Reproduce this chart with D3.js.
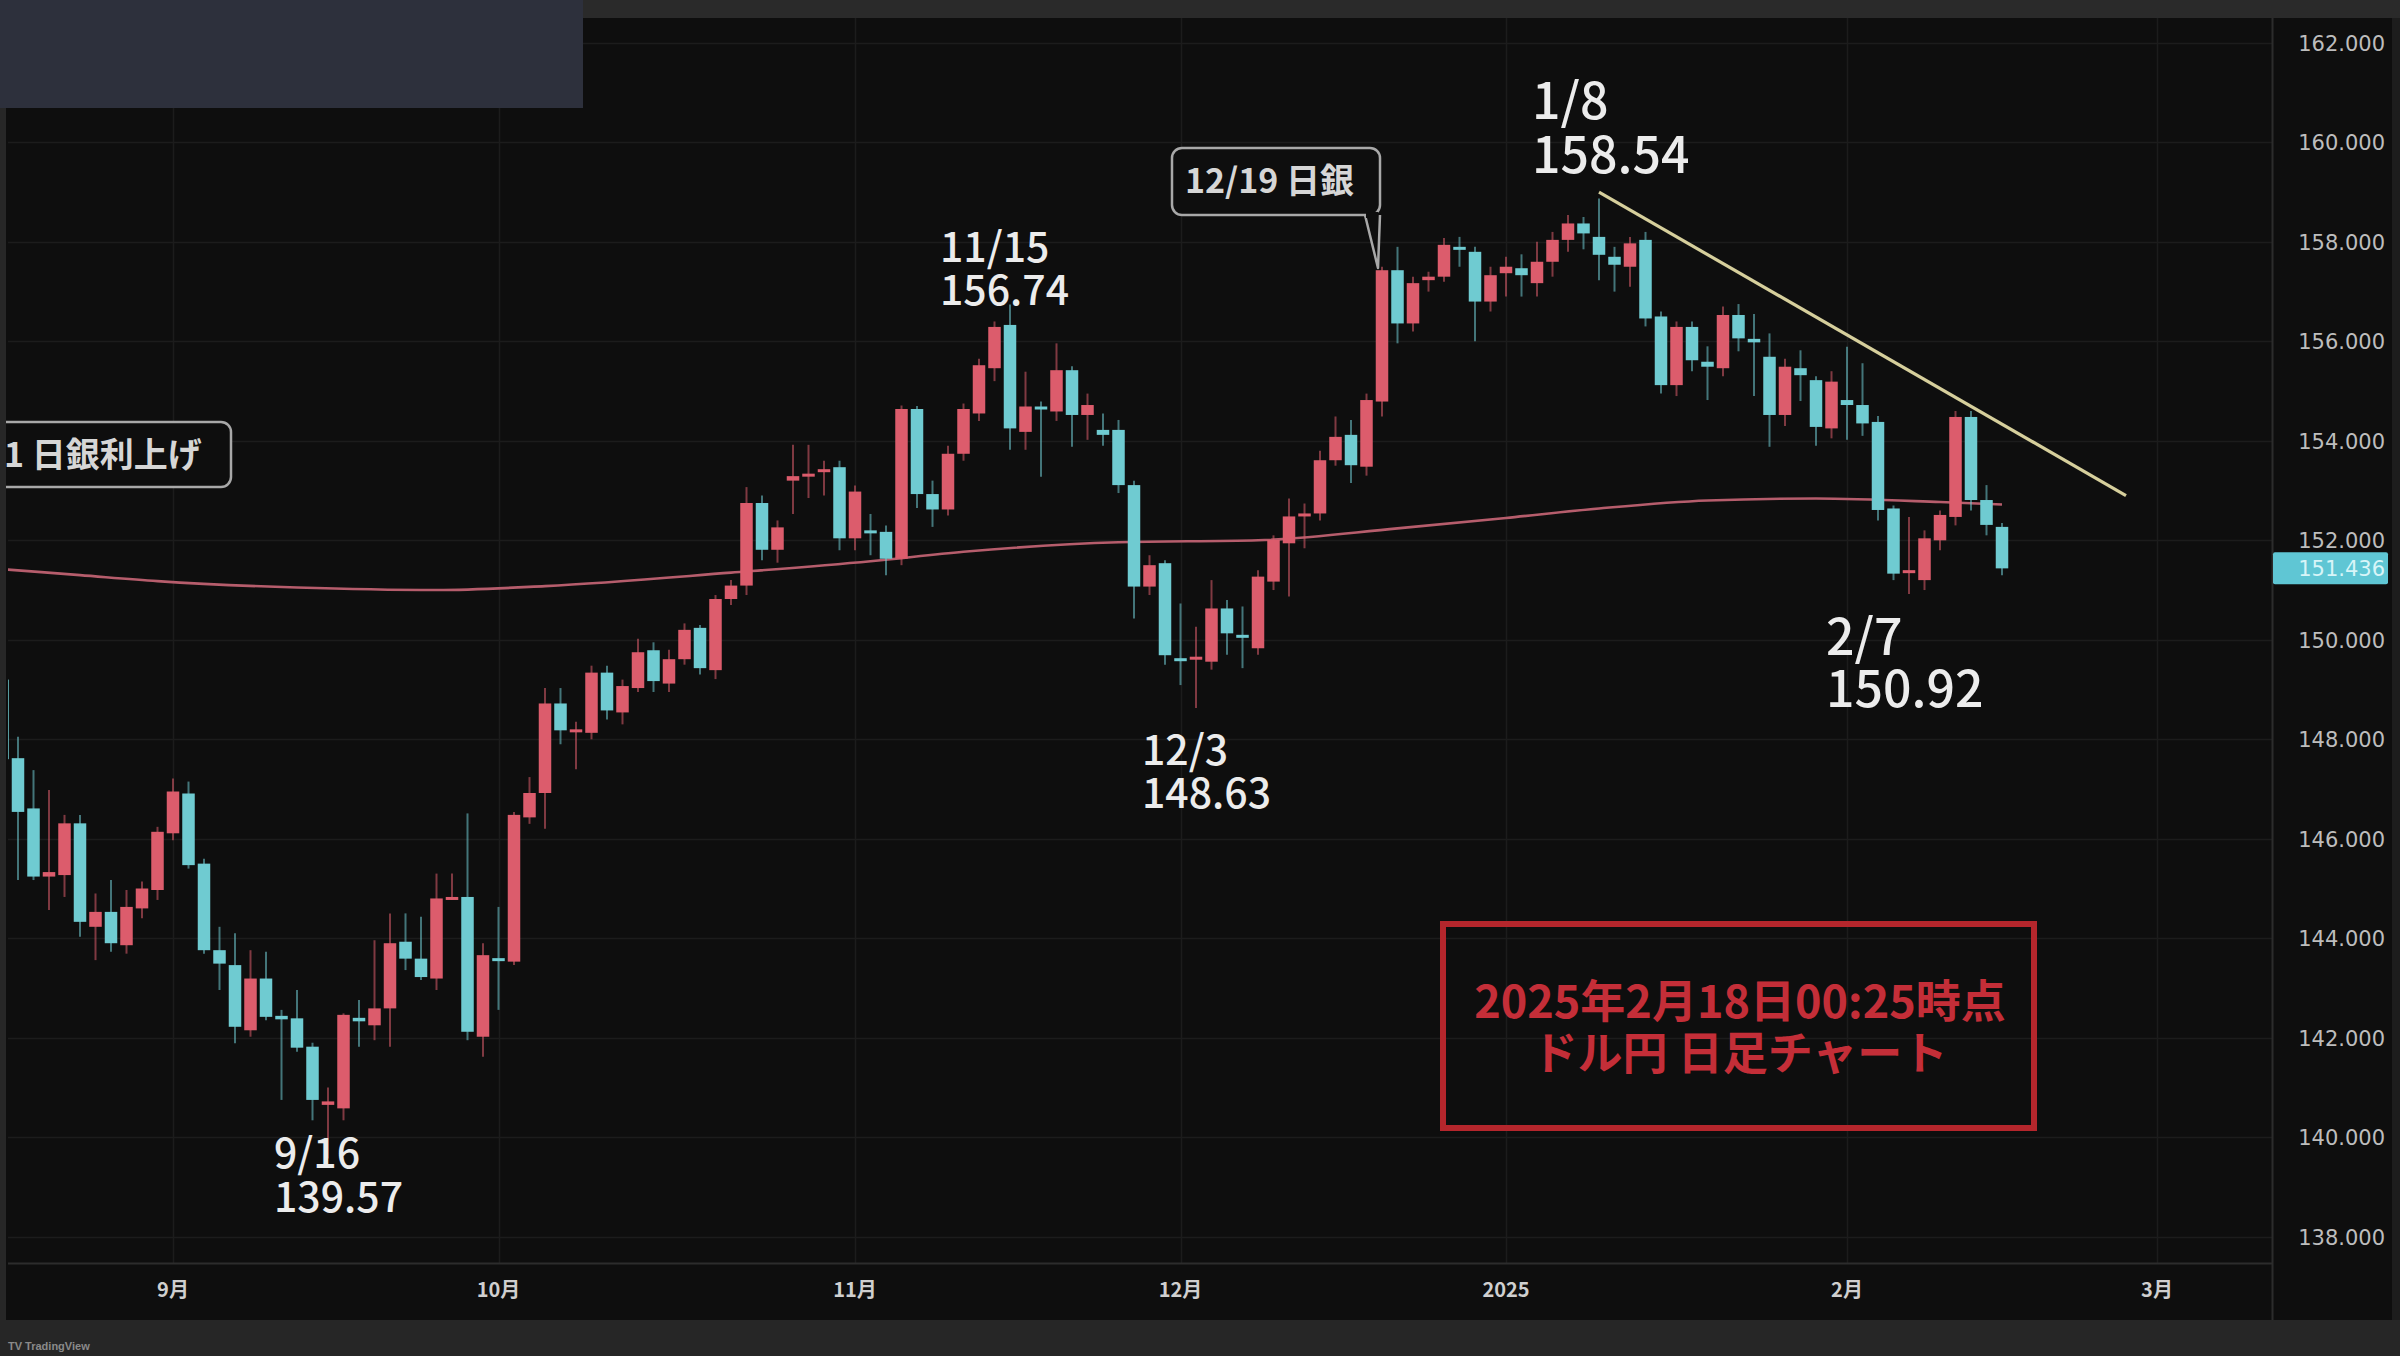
<!DOCTYPE html>
<html>
<head>
<meta charset="utf-8">
<script src="https://cdn.jsdelivr.net/npm/d3@7"></script>
<style>
html,body{margin:0;padding:0;background:#0e0e0e;overflow:hidden}
svg{display:block}
</style>
</head>
<body>
<svg id="chart" width="2400" height="1356"></svg>
<script>
// ---------------- DATA ----------------
const dates = [
"2024-08-16","2024-08-19","2024-08-20","2024-08-21","2024-08-22","2024-08-23",
"2024-08-26","2024-08-27","2024-08-28","2024-08-29","2024-08-30",
"2024-09-02","2024-09-03","2024-09-04","2024-09-05","2024-09-06",
"2024-09-09","2024-09-10","2024-09-11","2024-09-12","2024-09-13",
"2024-09-16","2024-09-17","2024-09-18","2024-09-19","2024-09-20",
"2024-09-23","2024-09-24","2024-09-25","2024-09-26","2024-09-27",
"2024-09-30","2024-10-01","2024-10-02","2024-10-03","2024-10-04",
"2024-10-07","2024-10-08","2024-10-09","2024-10-10","2024-10-11",
"2024-10-14","2024-10-15","2024-10-16","2024-10-17","2024-10-18",
"2024-10-21","2024-10-22","2024-10-23","2024-10-24","2024-10-25",
"2024-10-28","2024-10-29","2024-10-30","2024-10-31","2024-11-01",
"2024-11-04","2024-11-05","2024-11-06","2024-11-07","2024-11-08",
"2024-11-11","2024-11-12","2024-11-13","2024-11-14","2024-11-15",
"2024-11-18","2024-11-19","2024-11-20","2024-11-21","2024-11-22",
"2024-11-25","2024-11-26","2024-11-27","2024-11-28","2024-11-29",
"2024-12-02","2024-12-03","2024-12-04","2024-12-05","2024-12-06",
"2024-12-09","2024-12-10","2024-12-11","2024-12-12","2024-12-13",
"2024-12-16","2024-12-17","2024-12-18","2024-12-19","2024-12-20",
"2024-12-23","2024-12-24","2024-12-26","2024-12-27",
"2024-12-30","2024-12-31","2025-01-02","2025-01-03",
"2025-01-06","2025-01-07","2025-01-08","2025-01-09","2025-01-10",
"2025-01-13","2025-01-14","2025-01-15","2025-01-16","2025-01-17",
"2025-01-20","2025-01-21","2025-01-22","2025-01-23","2025-01-24",
"2025-01-27","2025-01-28","2025-01-29","2025-01-30","2025-01-31",
"2025-02-03","2025-02-04","2025-02-05","2025-02-06","2025-02-07",
"2025-02-10","2025-02-11","2025-02-12","2025-02-13","2025-02-14",
"2025-02-17"
];
const opens = [
149.2,147.62,146.61,145.24,145.27,146.31,
144.23,144.53,143.86,144.6,144.97,
146.11,146.91,145.5,143.76,143.46,
142.15,143.19,142.44,142.39,141.82,
140.65,140.58,142.4,142.25,142.59,
143.93,143.59,143.19,144.8,144.83,
142.02,143.6,143.53,146.43,146.92,
148.72,148.18,148.13,149.34,148.54,
149.03,149.79,149.12,149.61,150.24,
149.39,150.82,151.09,152.75,151.81,
153.2,153.3,153.4,153.47,152.04,
152.2,152.17,151.63,154.64,152.93,
152.62,153.74,154.55,155.46,156.33,
154.18,154.69,154.59,155.42,154.52,
154.22,154.22,153.11,151.07,151.54,
149.63,149.6,149.56,150.63,150.1,
149.83,151.17,151.94,152.5,152.54,
153.61,154.12,153.48,154.79,157.43,
156.36,157.23,157.3,157.9,
157.8,156.8,157.37,157.47,
157.17,157.6,158.04,158.37,158.1,
157.7,157.5,158.04,156.5,155.12,
156.29,155.59,155.46,156.53,156.05,
155.69,154.52,155.46,155.22,154.25,
154.82,154.72,154.38,152.64,151.38,
151.2,152.0,152.47,154.48,152.81,
152.27
];
const highs = [
149.33,148.05,147.38,146.98,146.48,146.48,
144.9,145.17,144.97,145.14,146.24,
147.21,147.15,145.6,144.23,144.1,
143.76,143.73,142.56,142.96,141.9,
141.0,142.49,142.76,143.96,144.5,
144.5,144.43,145.3,145.3,146.51,
143.9,144.63,146.54,147.24,149.03,
149.03,148.35,149.48,149.48,149.2,
150.02,149.95,149.8,150.33,150.3,
150.9,151.2,153.07,152.9,152.4,
153.92,153.92,153.6,153.6,153.1,
152.53,152.3,154.71,154.7,153.2,
153.9,154.75,155.65,156.4,156.74,
155.39,154.79,155.96,155.5,154.95,
154.55,154.42,153.2,151.7,151.6,
150.73,150.26,151.2,150.8,150.67,
151.4,152.1,152.84,152.74,153.8,
154.49,154.42,154.95,157.5,157.9,
157.3,157.4,158.08,158.1,
157.9,157.5,157.7,157.75,
158.0,158.2,158.54,158.5,158.87,
157.9,158.1,158.2,156.6,156.4,
156.4,155.9,156.7,156.75,156.55,
156.16,155.65,155.82,155.3,155.4,
155.89,155.56,154.5,152.7,152.47,
152.2,152.6,154.6,154.6,153.11,
152.35
];
const lows = [
147.5,145.17,145.17,144.57,144.83,144.03,
143.56,143.73,143.69,144.4,144.77,
145.97,145.4,143.69,142.96,141.89,
142.02,142.35,140.75,141.72,140.34,
139.57,140.34,141.82,141.95,141.82,
143.36,143.16,142.96,144.77,141.95,
141.62,142.56,143.46,146.3,146.2,
147.9,147.4,148.0,148.4,148.3,
148.95,148.95,148.95,149.5,149.3,
149.21,150.7,150.9,151.6,151.55,
152.53,152.85,152.9,151.8,151.8,
151.7,151.3,151.5,152.65,152.27,
152.5,153.6,154.4,155.2,153.82,
153.82,153.28,154.4,153.88,154.02,
153.9,152.95,150.43,150.9,149.5,
149.09,148.63,149.4,149.7,149.43,
149.7,151.0,150.87,151.84,152.4,
153.5,153.15,153.3,154.49,155.96,
156.2,157.0,157.2,157.5,
156.0,156.6,156.9,156.9,
156.9,157.3,157.8,157.85,157.23,
157.0,157.1,156.3,154.95,154.9,
155.4,154.82,155.3,155.8,154.9,
153.88,154.3,154.8,153.9,154.05,
154.02,154.1,152.4,151.2,150.92,
151.0,151.8,152.3,152.6,152.1,
151.3
];
const closes = [
147.6,146.54,145.24,145.33,146.31,144.33,
144.53,143.9,144.63,145.0,146.14,
146.95,145.47,143.76,143.49,142.22,
143.19,142.42,142.37,141.8,140.75,
140.72,142.46,142.33,142.59,143.9,
143.59,143.22,144.8,144.83,142.12,
143.66,143.56,146.48,146.92,148.72,
148.18,148.2,149.34,148.58,149.07,
149.75,149.17,149.61,150.2,149.43,
150.82,151.09,152.75,151.81,152.26,
153.29,153.34,153.43,152.04,152.98,
152.17,151.63,154.64,152.93,152.62,
153.74,154.64,155.52,156.29,154.25,
154.69,154.63,155.42,154.52,154.72,
154.12,153.11,151.07,151.5,149.69,
149.6,149.66,150.63,150.13,150.06,
151.27,152.01,152.48,152.54,153.61,
154.08,153.51,154.82,157.43,156.36,
157.17,157.3,157.94,157.84,
156.8,157.33,157.5,157.33,
157.6,158.04,158.37,158.17,157.74,
157.54,157.97,156.46,155.12,156.29,
155.62,155.49,156.53,156.06,155.98,
154.52,155.49,155.32,154.28,155.19,
154.72,154.35,152.61,151.33,151.4,
152.04,152.51,154.48,152.81,152.31,
151.436
];
// empty future sessions on the right of the chart
const futureDates = [
"2025-02-18","2025-02-19","2025-02-20","2025-02-21",
"2025-02-24","2025-02-25","2025-02-26","2025-02-27","2025-02-28",
"2025-03-03","2025-03-04","2025-03-05","2025-03-06","2025-03-07",
"2025-03-10","2025-03-11","2025-03-12","2025-03-13","2025-03-14"
];
// long moving average
const maDates = ["2024-08-16","2024-08-23","2024-08-30","2024-09-12","2024-09-25","2024-10-04",
  "2024-10-22","2024-11-04","2024-11-12","2024-11-26","2024-12-09","2024-12-20",
  "2025-01-02","2025-01-10","2025-01-21","2025-01-30","2025-02-11","2025-02-17"];
const maValues = [151.42,151.3,151.18,151.05,151.0,151.08,
  151.35,151.58,151.77,151.96,152.0,152.24,
  152.45,152.64,152.8,152.84,152.77,152.72];
// down trend line
const trendDates = ["2025-01-10","2025-02-27"];
const trendValues = [159.0,152.9];
// axes
const yTicks = [138,140,142,144,146,148,150,152,154,156,158,160,162];
const xTickDates = ["2024-09-02","2024-10-01","2024-11-01","2024-12-02","2025-01-02","2025-02-03","2025-03-03"];
const xTickLabels = ["9月","10月","11月","12月","2025","2月","3月"];
// high/low annotations
const markDates  = ["2024-09-16","2024-11-15","2024-12-03","2025-01-08","2025-02-07"];
const markNames  = ["9/16","11/15","12/3","1/8","2/7"];
const markPrices = [139.57,156.74,148.63,158.54,150.92];
const lastPrice = 151.436;
const eventDates = ["2024-12-19"];
const eventTexts = ["12/19 日銀","1 日銀利上げ"];
const noteLines = ["2025年2月18日00:25時点","ドル円 日足チャート"];

// ---------------- LAYOUT / STYLE ----------------
const W = 2400, H = 1356;
const plot = {left: 8, right: 2272, top: 18, bottom: 1263};
const STEP = 15.5;
const UP = "#dc5c6c", DOWN = "#6fcbd1";
const BG = "#0e0e0e", GRID = "#1c1c1c";
const JP = "'Noto Sans CJK JP','Noto Sans',sans-serif";
// label offsets relative to the marked candle (dx, dy of name baseline, line gap, size)
const markLayout = [
  {dx:-54, dy1: 9,  gap: 44, size:41},
  {dx:-70, dy1:-43, gap: 43, size:41},
  {dx:-54, dy1: 57, gap: 43, size:41},
  {dx:-36, dy1:-96, gap: 54, size:50},
  {dx:-83, dy1: 61, gap: 52, size:50}
];

const candles = dates.map((d,i)=>({date:d, o:opens[i], h:highs[i], l:lows[i], c:closes[i]}));
const allDates = dates.concat(futureDates);

const x = d3.scaleBand().domain(allDates)
  .range([-5.25, -5.25 + allDates.length*STEP]).padding(0);
const cx = d => x(d) + x.bandwidth()/2;
const y = d3.scaleLinear().domain([138,162]).range([1236.7, 42.9]);

const svg = d3.select("#chart");

// backgrounds
svg.append("rect").attr("width",W).attr("height",H).attr("fill",BG);

// clip
svg.append("defs").append("clipPath").attr("id","plotclip")
  .append("rect").attr("x",plot.left).attr("y",plot.top)
  .attr("width",plot.right-plot.left).attr("height",plot.bottom-plot.top);

// grid
const grid = svg.append("g").attr("clip-path","url(#plotclip)");
grid.selectAll("line.h").data(yTicks).join("line")
  .attr("x1",plot.left).attr("x2",plot.right)
  .attr("y1",d=>Math.round(y(d))+0.5).attr("y2",d=>Math.round(y(d))+0.5)
  .attr("stroke",GRID).attr("stroke-width",1.5);
grid.selectAll("line.v").data(xTickDates).join("line")
  .attr("x1",d=>Math.round(cx(d))+0.5).attr("x2",d=>Math.round(cx(d))+0.5)
  .attr("y1",plot.top).attr("y2",plot.bottom)
  .attr("stroke",GRID).attr("stroke-width",1.5);

// chrome on top of grid
svg.append("rect").attr("x",0).attr("y",0).attr("width",W).attr("height",plot.top).attr("fill","#2a2a2a");
svg.append("rect").attr("x",0).attr("y",0).attr("width",583).attr("height",108).attr("fill","#2d303c");
svg.append("rect").attr("x",0).attr("y",1320).attr("width",W).attr("height",36).attr("fill","#262626");
svg.append("rect").attr("x",2392).attr("y",plot.top).attr("width",8).attr("height",1320-plot.top).attr("fill","#1d1d1d");

// separators
svg.append("line").attr("x1",plot.right+0.5).attr("x2",plot.right+0.5).attr("y1",plot.top).attr("y2",1320)
  .attr("stroke","#2c2c2c").attr("stroke-width",2);
svg.append("line").attr("x1",plot.left).attr("x2",plot.right).attr("y1",plot.bottom+0.5).attr("y2",plot.bottom+0.5)
  .attr("stroke","#2c2c2c").attr("stroke-width",2);

const g = svg.append("g").attr("clip-path","url(#plotclip)");

// moving average
const maData = maDates.map((d,i)=>({date:d, v:maValues[i]}));
g.append("path").datum(maData)
  .attr("fill","none").attr("stroke","#b65d6c").attr("stroke-width",2.6)
  .attr("d", d3.line().x(d=>cx(d.date)).y(d=>y(d.v)).curve(d3.curveMonotoneX));

// candles
const bodyW = 12.5;
const cg = g.selectAll("g.candle").data(candles).join("g").attr("class","candle");
cg.append("line")
  .attr("x1",d=>cx(d.date)).attr("x2",d=>cx(d.date))
  .attr("y1",d=>y(d.h)).attr("y2",d=>y(d.l))
  .attr("stroke",d=>d.c>=d.o?UP:DOWN).attr("stroke-opacity",0.55).attr("stroke-width",2);
cg.append("rect")
  .attr("x",d=>cx(d.date)-bodyW/2).attr("width",bodyW)
  .attr("y",d=>y(Math.max(d.o,d.c)))
  .attr("height",d=>Math.max(3, Math.abs(y(d.o)-y(d.c))))
  .attr("fill",d=>d.c>=d.o?UP:DOWN);

// trend line
const trendData = trendDates.map((d,i)=>({date:d, v:trendValues[i]}));
g.append("path").datum(trendData)
  .attr("fill","none").attr("stroke","#d6cf9c").attr("stroke-width",3.2)
  .attr("d", d3.line().x(d=>cx(d.date)).y(d=>y(d.v)));

// y axis
const yAxis = d3.axisRight(y).tickValues(yTicks).tickFormat(d3.format(".3f")).tickSize(0);
const ya = svg.append("g").attr("transform",`translate(${plot.right},0)`).call(yAxis);
ya.select(".domain").remove();
ya.selectAll("text").attr("x",113).attr("text-anchor","end")
  .attr("font-family","'DejaVu Sans',sans-serif").attr("font-size",21)
  .attr("fill","#bdbdbd").attr("dy","0.35em");

// last price tag
const tagY = y(lastPrice);
svg.append("rect").attr("x",plot.right+1).attr("y",tagY-16).attr("width",115).attr("height",32)
  .attr("fill","#5fc6d4").attr("rx",2);
svg.append("text").attr("x",plot.right+113).attr("y",tagY).attr("dy","0.35em")
  .attr("text-anchor","end").attr("font-family","'DejaVu Sans',sans-serif").attr("font-size",21)
  .attr("fill","#d8f5f8").text(d3.format(".3f")(lastPrice));

// x axis
const xAxis = d3.axisBottom(x).tickValues(xTickDates)
  .tickFormat((d,i)=>xTickLabels[i]).tickSize(0);
const xa = svg.append("g").attr("transform",`translate(0,${plot.bottom})`).call(xAxis);
xa.select(".domain").remove();
xa.selectAll("text").attr("y",27).attr("dy","0.35em")
  .attr("font-family",JP).attr("font-size",20).attr("font-weight",700)
  .attr("fill","#cfcfcf");

// high/low annotations (two lines in one text element)
const ann = svg.append("g").attr("font-family",JP).attr("fill","#ececec").attr("font-weight",500);
markDates.forEach((d,i)=>{
  const L = markLayout[i];
  const px = cx(d) + L.dx, py = y(markPrices[i]);
  const t = ann.append("text").attr("x",px).attr("y",py+L.dy1).attr("font-size",L.size);
  t.append("tspan").attr("x",px).text(markNames[i]);
  t.append("tspan").attr("x",px).attr("dy",L.gap).text(markPrices[i].toFixed(2));
});

// event callout 12/19
const ex = cx(eventDates[0]);
const ev = svg.append("g");
ev.append("path")
  .attr("d", `M${ex-17},215 L${ex-4},268 L${ex-2},215`)
  .attr("fill",BG).attr("stroke","#a8a8a8").attr("stroke-width",2.5).attr("stroke-linejoin","round");
ev.append("rect").attr("x",ex-210).attr("y",148).attr("width",208).attr("height",67).attr("rx",10)
  .attr("fill",BG).attr("stroke","#a8a8a8").attr("stroke-width",2.5);
ev.append("rect").attr("x",ex-16).attr("y",212).attr("width",12).attr("height",6).attr("fill",BG);
ev.append("text").attr("x",ex-197).attr("y",193).attr("font-family",JP).attr("font-size",34)
  .attr("font-weight",700).attr("fill","#d6d6d6").text(eventTexts[0]);

// left callout (cut by chart edge)
const lv = svg.append("g");
lv.append("rect").attr("x",-14).attr("y",422).attr("width",245).attr("height",65).attr("rx",10)
  .attr("fill",BG).attr("stroke","#a8a8a8").attr("stroke-width",2.5);
lv.append("text").attr("x",4).attr("y",467).attr("font-family",JP).attr("font-size",34)
  .attr("font-weight",700).attr("fill","#d6d6d6").text(eventTexts[1]);
// left chart edge strip
svg.append("rect").attr("x",0).attr("y",108).attr("width",plot.left-2).attr("height",1320-108).attr("fill","#272727");

// note box
const nb = svg.append("g");
nb.append("rect").attr("x",1443).attr("y",924).attr("width",591).attr("height",204)
  .attr("fill","none").attr("stroke","#b5262c").attr("stroke-width",6);
const nt = nb.append("text").attr("x",1740).attr("y",1002).attr("dy","0.35em").attr("text-anchor","middle")
  .attr("font-family",JP).attr("font-size",45).attr("font-weight",700).attr("fill","#c42e38");
noteLines.forEach((d,i)=>{
  nt.append("tspan").attr("x",1740).attr("dy", i===0 ? "0.35em" : 52).text(d);
});

// watermark
svg.append("text").attr("x",8).attr("y",1350).attr("font-family","'Liberation Sans',sans-serif")
  .attr("font-size",11).attr("font-weight",700).attr("fill","#8a8a8a").text("TV TradingView");
</script>
</body>
</html>
